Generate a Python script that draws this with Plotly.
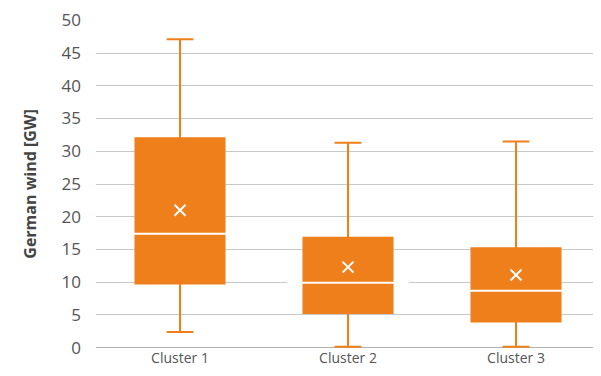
import plotly.graph_objects as go

clusters = ["Cluster 1", "Cluster 2", "Cluster 3"]
lower = [2.4, 0.15, 0.15]
q1 = [9.8, 5.3, 4.0]
median = [17.4, 9.9, 8.7]
q3 = [32.0, 16.8, 15.2]
upper = [47.1, 31.3, 31.5]
mean = [21.0, 12.3, 11.1]

orange = "#EE7F1A"
box_w = 0.53
plot_w = 504

fig = go.Figure()

fig.add_trace(go.Box(x=clusters, q1=q1, median=median, q3=q3, lowerfence=lower, upperfence=upper,
                     fillcolor=orange, line=dict(color=orange, width=2), width=box_w, whiskerwidth=0.3,
                     boxpoints=False, showlegend=False, hoverinfo="skip"))

# white median line
fig.add_trace(go.Scatter(x=clusters, y=median, mode="markers", showlegend=False, hoverinfo="skip",
                         marker=dict(symbol="line-ew", size=plot_w / 3 * box_w - 2,
                                     line=dict(color="white", width=2))))

# mean marker
fig.add_trace(go.Scatter(x=clusters, y=mean, mode="markers", showlegend=False, hoverinfo="skip",
                         marker=dict(symbol="x-thin", size=11, line=dict(color="white", width=2))))

fig.update_xaxes(showgrid=False, tickfont=dict(size=14, color="#555555", family="Open Sans"),
                 showline=False, range=[-0.5, 2.5], automargin=False)
fig.update_yaxes(range=[-0.05, 50.05], tickvals=list(range(0, 51, 5)), showgrid=True,
                 gridcolor="#C8C8C8", gridwidth=1, automargin=False,
                 zeroline=True, zerolinecolor="#B0B0B0", zerolinewidth=1,
                 tickfont=dict(size=17, color="#555555", family="Open Sans"), ticklabelstandoff=14,
                 title=dict(text="<b>German wind [GW]</b>", font=dict(size=16, color="#444444", family="Open Sans"),
                            standoff=20))

# the page puts the plot ~8px right/down, so margins are shifted to compensate
fig.update_layout(width=601, height=376, margin=dict(l=88, r=9, t=12, b=36),
                  paper_bgcolor="white", plot_bgcolor="white")

fig.write_html("out.html")
